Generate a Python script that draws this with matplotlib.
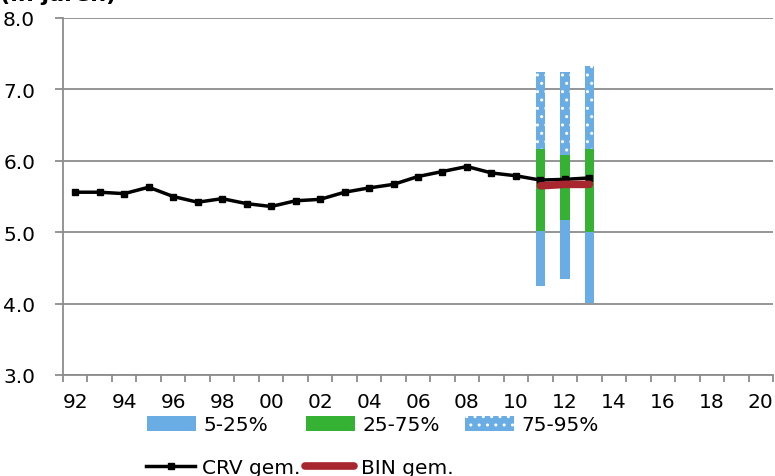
import numpy as np
import matplotlib
matplotlib.use("Agg")
import matplotlib.pyplot as plt
from matplotlib.patches import Patch
from matplotlib.lines import Line2D

# jaren op de x-as (categorie-as)
jaren = list(range(1992, 2021))
labels = [str(j)[2:] if i % 2 == 0 else "" for i, j in enumerate(jaren)]

# CRV gemiddelde 1992-2013
crv_jaren = list(range(1992, 2014))
crv_gem = [5.56, 5.56, 5.54, 5.63, 5.50, 5.42, 5.47, 5.40, 5.36, 5.44, 5.46,
           5.56, 5.62, 5.67, 5.78, 5.85, 5.92, 5.83, 5.79, 5.73, 5.74, 5.76]

# percentielen voor 2011-2013
band_jaren = [2011, 2012, 2013]
p5 = [4.25, 4.34, 4.01]
p25 = [5.01, 5.17, 5.00]
p75 = [6.17, 6.08, 6.17]
p95 = [7.25, 7.25, 7.33]

# BIN gemiddelde
bin_gem = [5.65, 5.67, 5.67]

blauw = "#6AADE4"
groen = "#35B234"
rood = "#A8262E"
grijs = "#8C8C8C"

plt.rcParams["font.family"] = "DejaVu Sans"
plt.rcParams["hatch.color"] = "white"
plt.rcParams["hatch.linewidth"] = 1.0

fig = plt.figure(figsize=(7.75, 4.77), dpi=100)
ax = fig.add_axes([63 / 775, 1 - 376 / 477, 710 / 775, 357 / 477])

pos = {j: i for i, j in enumerate(jaren)}
xb = [pos[j] for j in band_jaren]
w = 0.38

p5 = np.array(p5); p25 = np.array(p25); p75 = np.array(p75); p95 = np.array(p95)
ax.bar(xb, p25 - p5, bottom=p5, width=w, color=blauw, zorder=3)
ax.bar(xb, p75 - p25, bottom=p25, width=w, color=groen, zorder=3)
ax.bar(xb, p95 - p75, bottom=p75, width=w, color=blauw, hatch="..",
       edgecolor="white", linewidth=0, zorder=3)

ax.plot([pos[j] for j in crv_jaren], crv_gem, color="black", lw=2.5,
        marker="s", ms=5, zorder=5)
ax.plot(xb, bin_gem, color=rood, lw=5.5, solid_capstyle="round", zorder=6)

ax.set_ylim(3, 8)
ax.set_yticks(np.arange(3, 8.01, 1))
ax.set_yticklabels([f"{v:.1f}" for v in np.arange(3, 8.01, 1)], fontsize=14.5)
ax.yaxis.grid(True, color=grijs, lw=1.3)
ax.set_axisbelow(True)

ax.set_xlim(-0.5, len(jaren) - 0.5)
ax.set_xticks(np.arange(-0.5, len(jaren), 1))
ax.set_xticklabels([])
ax.set_xticks(range(len(jaren)), minor=True)
ax.set_xticklabels(labels, minor=True, fontsize=14.5)
ax.tick_params(axis="x", which="major", length=5, color=grijs, width=1.3)
ax.tick_params(axis="x", which="minor", length=0, pad=12)
ax.tick_params(axis="y", length=6, color=grijs, width=1.3, pad=14)

for s in ["top", "right"]:
    ax.spines[s].set_visible(False)
for s in ["left", "bottom"]:
    ax.spines[s].set_color(grijs)
    ax.spines[s].set_linewidth(1.3)

# titel valt grotendeels buiten het beeld, zoals in het origineel
fig.text(0.0, 1.0 + 0.010, "(in jaren)", fontsize=16, fontweight="bold",
         va="center", ha="left")

# legenda: elk item apart geplaatst
items = [
    (Patch(facecolor=blauw), "5-25%", 147, 426),
    (Patch(facecolor=groen), "25-75%", 306, 426),
    (Patch(facecolor=blauw, hatch="..", edgecolor="white", linewidth=0), "75-95%", 465, 426),
    (Line2D([], [], color="black", lw=2.5, marker="s", ms=5), "CRV gem.", 146, 469),
    (Line2D([], [], color=rood, lw=5.5, solid_capstyle="round"), "BIN gem.", 305, 469),
]
for h, txt, px, py in items:
    leg = fig.legend([h], [txt], frameon=False, fontsize=14.5, loc="center left",
                     bbox_to_anchor=(px / 775, 1 - py / 477), handlelength=2.45,
                     handleheight=0.8, handletextpad=0.35, borderpad=0, borderaxespad=0)

fig.savefig("out.png", dpi=100)
